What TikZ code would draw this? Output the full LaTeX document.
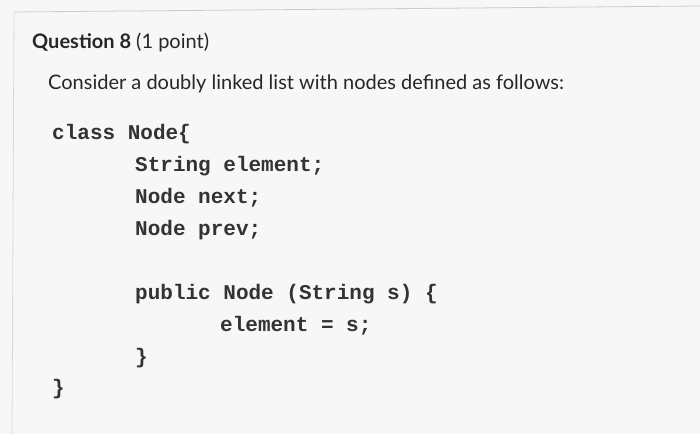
\documentclass[tikz,border=0pt]{standalone}
\usepackage{fontspec}
\setmainfont{Lato}
\newfontfamily\codefont{Liberation Mono}
\begin{document}
\begin{tikzpicture}[x=1pt,y=-1pt,
  txt/.style={anchor=base west,inner sep=0pt,text=black!85},
  code/.style={txt,font=\codefont\bfseries\fontsize{21}{24}\selectfont,text=black!80}]
\useasboundingbox (0,0) rectangle (700,434);
\fill[gray!6] (0,0) rectangle (700,434);
\draw[gray!40,line width=0.8] (14,12) -- (700,6);
\draw[gray!30,line width=0.8] (14,12) -- (12,434);
\node[txt,font=\fontsize{20}{23}\selectfont] (q) at (32,48) {\textbf{Question 8} (1 point)};
\node[txt,font=\fontsize{20}{23}\selectfont] (c) at (48,89) {Consider a doubly linked list with nodes defined as follows:};
\node[code] (l1) at (52,139) {class Node\{};
\node[code] (l2) at (135,171) {String element;};
\node[code] (l3) at (135,203) {Node next;};
\node[code] (l4) at (135,235) {Node prev;};
\node[code] (l5) at (135,299) {public Node (String s) \{};
\node[code] (l6) at (220,331) {element = s;};
\node[code] (l7) at (135,363) {\}};
\node[code] (l8) at (52,394) {\}};
\end{tikzpicture}
\end{document}
